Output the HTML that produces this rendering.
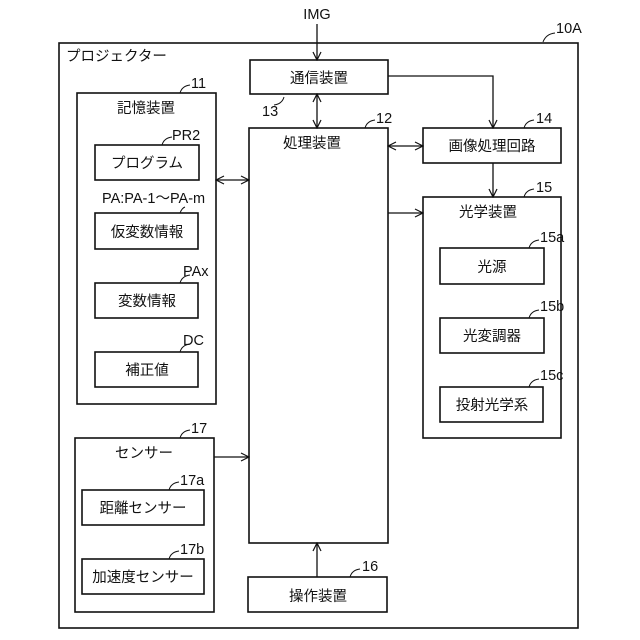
<!DOCTYPE html><html><head><meta charset="utf-8"><style>body{margin:0;background:#fff}svg{display:block}text{font-family:"Liberation Sans","Noto Sans CJK JP",sans-serif;font-size:14.5px;fill:#111}</style></head><body>
<svg width="640" height="640" viewBox="0 0 640 640" xmlns="http://www.w3.org/2000/svg">
<defs><marker id="a" markerWidth="10" markerHeight="10" refX="9" refY="5" orient="auto" markerUnits="userSpaceOnUse"><path d="M1,1 L9,5 L1,9" fill="none" stroke="#111" stroke-width="1.2"/></marker>
<marker id="b" markerWidth="10" markerHeight="10" refX="1" refY="5" orient="auto" markerUnits="userSpaceOnUse"><path d="M9,1 L1,5 L9,9" fill="none" stroke="#111" stroke-width="1.2"/></marker></defs>
<g fill="none" stroke="#111" stroke-width="1.6">
<rect x="59" y="43" width="519" height="585"/>
<rect x="250" y="60" width="138" height="34"/>
<rect x="249" y="128" width="139" height="415"/>
<rect x="248" y="577" width="139" height="35"/>
<rect x="77" y="93" width="139" height="311"/>
<rect x="95" y="145" width="104" height="35"/>
<rect x="95" y="213" width="103" height="36"/>
<rect x="95" y="283" width="103" height="35"/>
<rect x="95" y="352" width="103" height="35"/>
<rect x="423" y="128" width="138" height="35"/>
<rect x="423" y="197" width="138" height="241"/>
<rect x="440" y="248" width="104" height="36"/>
<rect x="440" y="318" width="104" height="35"/>
<rect x="440" y="387" width="103" height="35"/>
<rect x="75" y="438" width="139" height="174"/>
<rect x="82" y="490" width="122" height="35"/>
<rect x="82" y="559" width="122" height="35"/>
</g>
<g stroke="#111" stroke-width="1.3" fill="none">
<line x1="317" y1="24" x2="317" y2="60" marker-end="url(#a)"/>
<line x1="317" y1="94" x2="317" y2="128" marker-start="url(#b)" marker-end="url(#a)"/>
<polyline points="388,76 493,76 493,128" marker-end="url(#a)"/>
<line x1="388" y1="146" x2="423" y2="146" marker-start="url(#b)" marker-end="url(#a)"/>
<line x1="493" y1="163" x2="493" y2="197" marker-end="url(#a)"/>
<line x1="388" y1="213" x2="423" y2="213" marker-end="url(#a)"/>
<line x1="216" y1="180" x2="249" y2="180" marker-start="url(#b)" marker-end="url(#a)"/>
<line x1="214" y1="457" x2="249" y2="457" marker-end="url(#a)"/>
<line x1="317" y1="577" x2="317" y2="543" marker-end="url(#a)"/>
<g stroke-width="1">
<path d="M543,42 q3,-8 12,-9"/><path d="M180,93 q2,-7 10,-8"/><path d="M365,128 q2,-7 10,-8"/>
<path d="M284,97 q-2,7 -10,8"/><path d="M524,128 q2,-7 10,-8"/><path d="M524,197 q2,-7 10,-8"/>
<path d="M529,248 q2,-7 10,-8"/><path d="M529,318 q2,-7 10,-8"/><path d="M529,387 q2,-7 10,-8"/>
<path d="M180,438 q2,-7 10,-8"/><path d="M169,490 q2,-7 10,-8"/><path d="M169,559 q2,-7 10,-8"/>
<path d="M350,577 q2,-7 10,-8"/><path d="M162,145 q2,-7 10,-8"/><path d="M180,213 q2,-5 5,-6"/>
<path d="M180,283 q2,-7 10,-8"/><path d="M180,352 q2,-7 10,-8"/>
</g></g>
<g text-anchor="middle">
<text x="317" y="19" font-size="13">IMG</text>
<text x="319" y="83">通信装置</text>
<text x="312" y="148">処理装置</text>
<text x="318" y="601">操作装置</text>
<text x="146" y="113">記憶装置</text>
<text x="147" y="168">プログラム</text>
<text x="147" y="237">仮変数情報</text>
<text x="147" y="306">変数情報</text>
<text x="147" y="375">補正値</text>
<text x="492" y="151">画像処理回路</text>
<text x="488" y="217">光学装置</text>
<text x="492" y="272">光源</text>
<text x="492" y="341">光変調器</text>
<text x="492" y="410">投射光学系</text>
<text x="144" y="458">センサー</text>
<text x="143" y="513">距離センサー</text>
<text x="143" y="582">加速度センサー</text>
</g>
<g font-size="13">
<text x="66" y="61">プロジェクター</text>
<text x="556" y="33">10A</text><text x="191" y="88">11</text><text x="376" y="123">12</text>
<text x="262" y="116">13</text><text x="536" y="123">14</text><text x="536" y="192">15</text>
<text x="540" y="242">15a</text><text x="540" y="311">15b</text><text x="540" y="380">15c</text>
<text x="191" y="433">17</text><text x="180" y="485">17a</text><text x="180" y="554">17b</text>
<text x="362" y="571">16</text><text x="172" y="140">PR2</text><text x="102" y="203">PA:PA-1～PA-m</text>
<text x="183" y="276">PAx</text><text x="183" y="345">DC</text>
</g>
</svg></body></html>
